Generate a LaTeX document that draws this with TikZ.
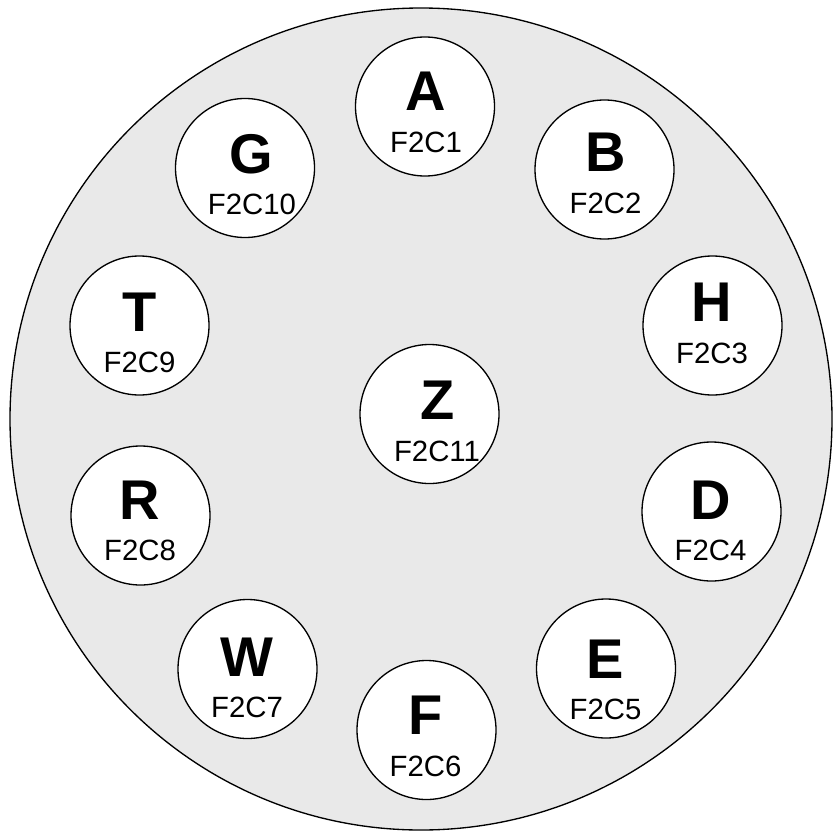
\documentclass[tikz,border=0pt]{standalone}
\usepackage{fontspec}
\setmainfont{Liberation Sans}

\begin{document}
\begin{tikzpicture}[x=0.75pt,y=0.75pt,yscale=-1,xscale=1,
  plate/.style={circle,draw,line width=1pt,fill={rgb,255:red,233;green,233;blue,233},inner sep=0pt,minimum size=616.5pt},
  hole/.style={circle,draw,line width=1pt,fill=white,inner sep=0pt,minimum size=104.25pt},
  letter/.style={inner sep=0pt,font=\fontsize{42}{42}\selectfont\bfseries},
  tag/.style={inner sep=0pt,font=\fontsize{22}{22}\selectfont}]
%set diagram left start at 0, and has height of 831
\useasboundingbox (0,0) rectangle (834,831);

%Shape: Circle [plate]
\node[plate] (plate) at (421,419) {};

%Shape: Circle [A]
\node[hole] (A) at (425,106.5) {};
%Shape: Circle [G]
\node[hole] (G) at (245,168) {};
%Shape: Circle [B]
\node[hole] (B) at (604.5,169.5) {};
%Shape: Circle [H]
\node[hole] (H) at (712.5,325.5) {};
%Shape: Circle [T]
\node[hole] (T) at (139.5,325.5) {};
%Shape: Circle [Z]
\node[hole] (Z) at (429.5,414) {};
%Shape: Circle [R]
\node[hole] (R) at (140.5,515.5) {};
%Shape: Circle [D]
\node[hole] (D) at (711.5,511.5) {};
%Shape: Circle [W]
\node[hole] (W) at (247.5,669) {};
%Shape: Circle [E]
\node[hole] (E) at (606,668.5) {};
%Shape: Circle [F]
\node[hole] (F) at (426.5,730) {};

% Text Node
\node[letter] (A-id) at (426,91) {A};
\node[tag] (A-tag) at (426,142) {F2C1};
% Text Node
\node[letter] (G-id) at (251.5,154) {G};
\node[tag] (G-tag) at (252,204) {F2C10};
% Text Node
\node[letter] (B-id) at (605.5,152.5) {B};
\node[tag] (B-tag) at (605.5,203.5) {F2C2};
% Text Node
\node[letter] (H-id) at (712,302) {H};
\node[tag] (H-tag) at (712,353) {F2C3};
% Text Node
\node[letter] (T-id) at (139.5,312) {T};
\node[tag] (T-tag) at (139.5,362) {F2C9};
% Text Node
\node[letter] (Z-id) at (437.5,400) {Z};
\node[tag] (Z-tag) at (437,451) {F2C11};
% Text Node
\node[letter] (R-id) at (140,500) {R};
\node[tag] (R-tag) at (140,550) {F2C8};
% Text Node
\node[letter] (D-id) at (710.5,500) {D};
\node[tag] (D-tag) at (710.5,550) {F2C4};
% Text Node
\node[letter] (W-id) at (247,657) {W};
\node[tag] (W-tag) at (247,707.5) {F2C7};
% Text Node
\node[letter] (E-id) at (605.5,659) {E};
\node[tag] (E-tag) at (605.5,709) {F2C5};
% Text Node
\node[letter] (F-id) at (425.5,715.5) {F};
\node[tag] (F-tag) at (425.5,766) {F2C6};

\end{tikzpicture}
\end{document}
